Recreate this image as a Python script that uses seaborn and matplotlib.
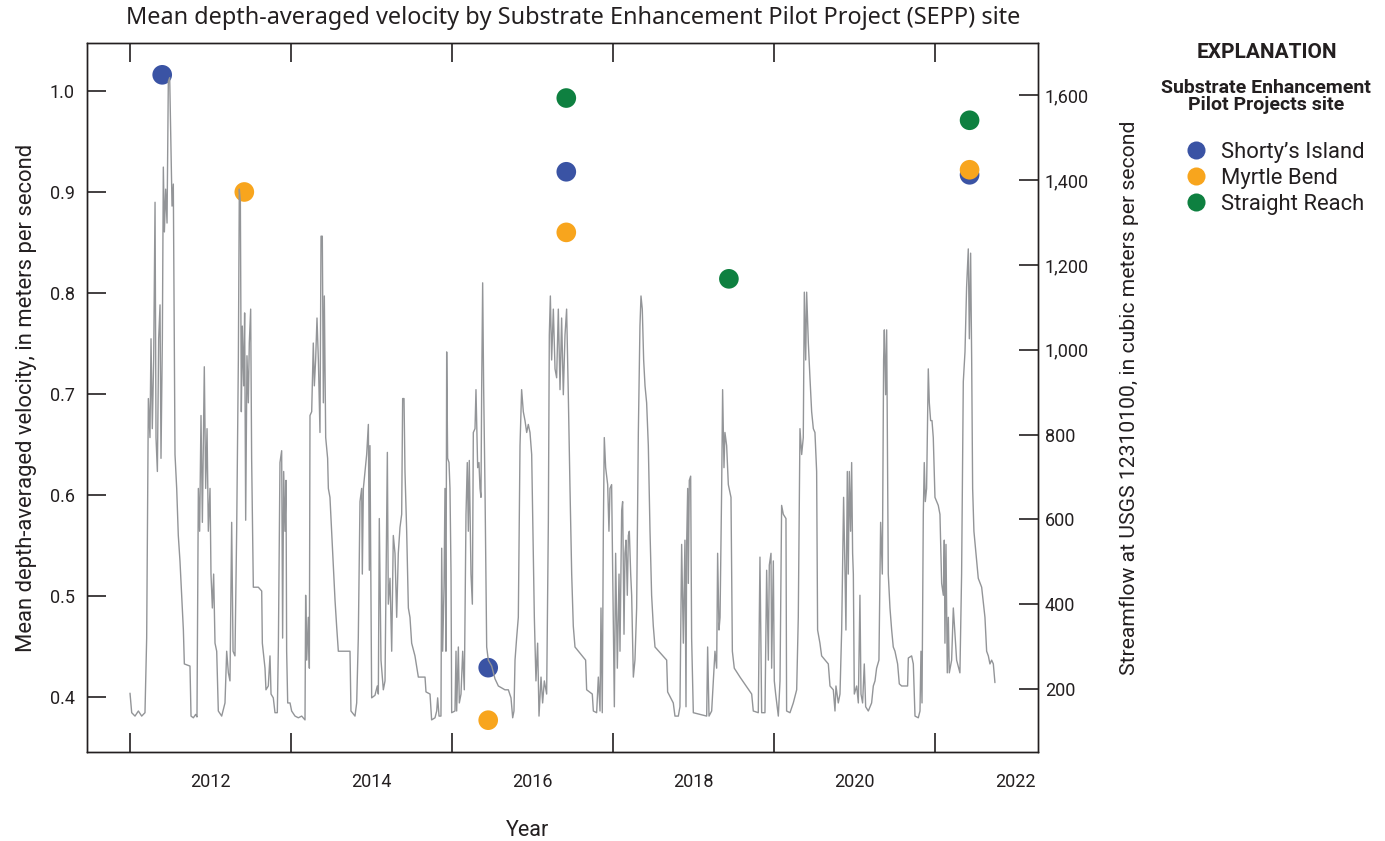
import matplotlib
matplotlib.use("Agg")
import matplotlib.pyplot as plt
import matplotlib.ticker as mticker
from matplotlib import font_manager
from matplotlib.lines import Line2D
import seaborn as sns
import pandas as pd

# ---------------- data ----------------
site_names = ["Shorty\u2019s Island", "Myrtle Bend", "Straight Reach"]
site_colors = ["#3A53A4", "#F8A51D", "#0E8040"]

shorty_year = [2011.40, 2015.45, 2016.42, 2021.43]
shorty_vel = [1.016, 0.429, 0.920, 0.917]
myrtle_year = [2012.42, 2015.45, 2016.42, 2021.43]
myrtle_vel = [0.900, 0.377, 0.860, 0.922]
straight_year = [2016.42, 2018.44, 2021.43]
straight_vel = [0.993, 0.814, 0.971]

flow_year = [
    2011.000, 2011.021, 2011.062, 2011.104, 2011.145, 2011.186, 2011.207, 2011.228, 2011.248, 2011.261,
    2011.277, 2011.294, 2011.311, 2011.323, 2011.340, 2011.356, 2011.373, 2011.385, 2011.402, 2011.414,
    2011.427, 2011.443, 2011.460, 2011.476, 2011.493, 2011.509, 2011.522, 2011.538, 2011.559, 2011.580,
    2011.600, 2011.621, 2011.642, 2011.663, 2011.675, 2011.745, 2011.758, 2011.787, 2011.816, 2011.832,
    2011.849, 2011.865, 2011.882, 2011.899, 2011.923, 2011.940, 2011.957, 2011.973, 2011.994, 2012.006,
    2012.023, 2012.039, 2012.056, 2012.077, 2012.097, 2012.139, 2012.180, 2012.201, 2012.222, 2012.242,
    2012.263, 2012.280, 2012.304, 2012.325, 2012.346, 2012.358, 2012.371, 2012.383, 2012.395, 2012.412,
    2012.424, 2012.437, 2012.453, 2012.470, 2012.482, 2012.499, 2012.511, 2012.532, 2012.573,
    2012.594, 2012.636, 2012.644, 2012.677, 2012.689, 2012.718, 2012.739, 2012.752, 2012.780, 2012.801,
    2012.830, 2012.843, 2012.863, 2012.884, 2012.896, 2012.909, 2012.925, 2012.938, 2012.946, 2012.959,
    2012.988, 2013.008, 2013.050, 2013.091, 2013.133, 2013.174, 2013.182, 2013.195, 2013.215, 2013.228,
    2013.236, 2013.257, 2013.277, 2013.290, 2013.306, 2013.323, 2013.340, 2013.360, 2013.373, 2013.389,
    2013.402, 2013.414, 2013.431, 2013.455, 2013.464, 2013.484, 2013.505, 2013.526, 2013.547, 2013.567,
    2013.588, 2013.733, 2013.745, 2013.795, 2013.816, 2013.836, 2013.857, 2013.878, 2013.886, 2013.899,
    2013.919, 2013.940, 2013.961, 2013.973, 2013.981, 2014.002, 2014.043, 2014.072, 2014.085, 2014.097,
    2014.118, 2014.147, 2014.168, 2014.197, 2014.209,
    2014.230, 2014.251, 2014.271, 2014.292, 2014.313, 2014.333, 2014.354, 2014.375, 2014.387, 2014.404,
    2014.416, 2014.437, 2014.458, 2014.478, 2014.499, 2014.540, 2014.582, 2014.665, 2014.677, 2014.727,
    2014.747, 2014.789, 2014.810, 2014.822, 2014.839, 2014.863, 2014.872, 2014.884, 2014.901, 2014.913,
    2014.925, 2014.934, 2014.946, 2014.963, 2014.975, 2014.988, 2014.996, 2015.037, 2015.050, 2015.058,
    2015.079, 2015.091, 2015.112, 2015.133, 2015.153, 2015.174, 2015.190, 2015.203, 2015.215, 2015.236,
    2015.253, 2015.265, 2015.286, 2015.298, 2015.319, 2015.335, 2015.348, 2015.360, 2015.369, 2015.381,
    2015.393, 2015.410, 2015.431, 2015.451, 2015.493, 2015.534, 2015.576, 2015.658, 2015.700, 2015.733,
    2015.754, 2015.770, 2015.783, 2015.803, 2015.824,
    2015.845, 2015.857, 2015.865, 2015.886, 2015.907, 2015.928, 2015.948, 2015.969, 2015.990, 2016.002,
    2016.023, 2016.043, 2016.064, 2016.081, 2016.106, 2016.126, 2016.147, 2016.176, 2016.197, 2016.209,
    2016.222, 2016.238, 2016.259, 2016.280, 2016.300, 2016.321, 2016.342, 2016.362, 2016.383, 2016.404,
    2016.424, 2016.445, 2016.466, 2016.487, 2016.507, 2016.528, 2016.660, 2016.673, 2016.743, 2016.756,
    2016.797, 2016.818, 2016.839, 2016.851, 2016.867, 2016.880, 2016.892, 2016.909, 2016.934, 2016.950,
    2016.963, 2016.983, 2017.004, 2017.017, 2017.033, 2017.054, 2017.075, 2017.087, 2017.108, 2017.120,
    2017.137, 2017.149, 2017.162, 2017.178, 2017.191, 2017.203, 2017.220, 2017.232, 2017.253, 2017.273,
    2017.294, 2017.315, 2017.335, 2017.348, 2017.364, 2017.381, 2017.398, 2017.418,
    2017.439, 2017.460, 2017.480, 2017.501, 2017.522, 2017.667, 2017.679, 2017.749, 2017.770, 2017.812,
    2017.832, 2017.853, 2017.874, 2017.894, 2017.907, 2017.915, 2017.928, 2017.936, 2017.948, 2017.965,
    2017.977, 2017.998, 2018.164, 2018.176, 2018.193, 2018.226, 2018.247, 2018.267, 2018.288, 2018.300,
    2018.317, 2018.330, 2018.350, 2018.362, 2018.379, 2018.391, 2018.412, 2018.433, 2018.466, 2018.483,
    2018.507, 2018.578, 2018.661, 2018.723, 2018.743, 2018.805, 2018.826, 2018.847, 2018.888, 2018.909,
    2018.930, 2018.942, 2018.963, 2018.971, 2018.992, 2019.004, 2019.021,
    2019.054, 2019.075, 2019.095, 2019.116, 2019.149, 2019.157, 2019.199, 2019.240, 2019.282, 2019.302,
    2019.323, 2019.344, 2019.364, 2019.377, 2019.394, 2019.406, 2019.427, 2019.447, 2019.468, 2019.489,
    2019.509, 2019.530, 2019.542, 2019.571, 2019.592, 2019.675, 2019.696, 2019.737, 2019.758, 2019.770,
    2019.799, 2019.820, 2019.841, 2019.853, 2019.865, 2019.882, 2019.894, 2019.911, 2019.923, 2019.936,
    2019.952, 2019.965, 2019.977, 2019.986, 2019.998, 2020.027, 2020.048, 2020.068, 2020.081, 2020.101,
    2020.122, 2020.139, 2020.172, 2020.213, 2020.234, 2020.255, 2020.275, 2020.304, 2020.325, 2020.346,
    2020.362, 2020.371, 2020.387, 2020.400, 2020.420, 2020.441, 2020.462, 2020.482, 2020.503, 2020.536,
    2020.557, 2020.586, 2020.660,
    2020.669, 2020.710, 2020.731, 2020.752, 2020.793, 2020.814, 2020.826, 2020.839, 2020.855, 2020.867,
    2020.880, 2020.896, 2020.917, 2020.930, 2020.946, 2020.963, 2020.979, 2021.000, 2021.041, 2021.062,
    2021.083, 2021.104, 2021.116, 2021.124, 2021.137, 2021.153, 2021.166, 2021.178, 2021.207, 2021.228,
    2021.248, 2021.269, 2021.310, 2021.331, 2021.352, 2021.373, 2021.393, 2021.414, 2021.427, 2021.443,
    2021.456, 2021.468, 2021.484, 2021.509, 2021.538, 2021.580, 2021.621, 2021.642, 2021.663, 2021.683,
    2021.704, 2021.725, 2021.745,
]

flow_cms = [
    190, 144, 136, 148, 136, 144, 320, 885, 793, 1026,
    814, 976, 1348, 793, 713, 1026, 1106, 744, 1026, 1431,
    1278, 1379, 1299, 1633, 1642, 1480, 1339, 1391, 753, 673,
    562, 501, 421, 339, 259, 254, 136, 132, 140, 134,
    673, 572, 845, 593, 960, 673, 814, 572, 673, 471,
    391, 471, 308, 289, 148, 136, 167, 289, 238, 219,
    593, 289, 278, 572, 976, 1379, 1348, 854, 1056, 915,
    1087, 598, 986, 875, 1016, 1096, 744, 440, 440,
    440, 431, 308, 249, 198, 207, 278, 188, 179, 144,
    144, 299, 734, 762, 320, 713, 572, 692, 289, 167,
    167, 148, 136, 132, 136, 127, 421, 268, 369, 249,
    845, 854, 1016, 915, 976, 1075, 976, 805, 1268, 1268,
    875, 1127, 793, 744, 673, 652, 572, 492, 409, 348,
    289, 289, 148, 136, 167, 320, 642, 673, 471, 673,
    713, 753, 824, 480, 774, 179, 185, 207, 188, 602,
    268, 198, 219, 758, 400,
    461, 289, 562, 520, 369, 520, 581, 612, 885, 885,
    713, 572, 391, 369, 308, 278, 228, 228, 193, 188,
    127, 132, 148, 179, 136, 136, 532, 289, 440, 673,
    289, 995, 744, 734, 673, 471, 144, 148, 289, 148,
    299, 167, 188, 289, 198, 612, 734, 572, 739, 471,
    400, 805, 814, 906, 722, 734, 673, 652, 915, 1158,
    915, 673, 299, 268, 254, 224, 207, 198, 198, 179,
    132, 148, 268, 320, 369,
    774, 854, 906, 854, 833, 805, 824, 805, 753, 612,
    369, 219, 308, 136, 228, 167, 219, 188, 593, 1035,
    1127, 976, 1096, 955, 934, 1096, 906, 1075, 894, 1035,
    1096, 894, 673, 471, 348, 299, 268, 198, 188, 148,
    144, 228, 148, 391, 144, 572, 793, 722, 682, 572,
    673, 682, 369, 158, 520, 249, 471, 289, 621, 642,
    329, 520, 551, 421, 562, 572, 471, 421, 228, 268,
    391, 805, 1056, 1127, 1096, 976, 915, 875,
    774, 572, 421, 348, 299, 268, 193, 167, 136, 136,
    158, 541, 308, 551, 158, 541, 673, 449, 692, 702,
    320, 144, 136, 299, 136, 148, 219, 289, 249, 520,
    339, 369, 673, 906, 722, 805, 774, 682, 652, 289,
    249, 228, 205, 188, 148, 144, 511, 144, 144, 480,
    268, 492, 520, 249, 502, 219, 188,
    136, 219, 633, 612, 602, 148, 144, 167, 198, 369,
    814, 753, 793, 1136, 976, 1136, 1016, 934, 854, 814,
    805, 713, 339, 308, 278, 259, 207, 198, 148, 207,
    167, 188, 339, 492, 652, 480, 339, 713, 471, 713,
    572, 734, 520, 471, 188, 207, 167, 421, 188, 167,
    259, 158, 148, 167, 207, 219, 249, 268, 593, 471,
    976, 1047, 894, 1047, 471, 391, 339, 299, 289, 259,
    212, 207, 207,
    273, 278, 259, 136, 132, 148, 289, 167, 612, 734,
    642, 673, 955, 875, 833, 833, 793, 652, 633, 612,
    449, 421, 551, 308, 541, 238, 369, 238, 268, 391,
    329, 268, 238, 471, 925, 995, 1148, 1238, 1026, 1228,
    976, 673, 572, 520, 461, 440, 369, 289, 278, 259,
    268, 259, 215,
]

vel_ticks = [0.4, 0.5, 0.6, 0.7, 0.8, 0.9, 1.0]
flow_ticks = [200, 400, 600, 800, 1000, 1200, 1400, 1600]
major_years = [2011, 2013, 2015, 2017, 2019, 2021]
label_years = [2012, 2014, 2016, 2018, 2020, 2022]

# ---------------- tables ----------------
obs = pd.DataFrame({
    "year": shorty_year + myrtle_year + straight_year,
    "velocity": shorty_vel + myrtle_vel + straight_vel,
    "site": [site_names[0]] * len(shorty_year) + [site_names[1]] * len(myrtle_year)
            + [site_names[2]] * len(straight_year),
})
flow = pd.DataFrame({"year": flow_year, "flow": flow_cms})

# ---------------- style ----------------
sns.set_theme(style="white")


def pick(names):
    avail = {f.name for f in font_manager.fontManager.ttflist}
    for n in names:
        if n in avail:
            return n
    return "DejaVu Sans"


COND = pick(["Liberation Sans Narrow", "Roboto", "DejaVu Sans"])
TITLEF = pick(["Noto Sans", "Open Sans", "DejaVu Sans"])
plt.rcParams["font.family"] = [COND, "DejaVu Sans"]
TXT = "#231F20"

W, H = 1385, 841
fig = plt.figure(figsize=(W / 100, H / 100), dpi=100)
L, R, T, B = 86.7, 1038.0, 43.3, 751.7
ax = fig.add_axes([L / W, 1 - B / H, (R - L) / W, (B - T) / H])
ax2 = ax.twinx()

palette = dict(zip(site_names, site_colors))
sns.scatterplot(data=obs, x="year", y="velocity", hue="site", palette=palette,
                hue_order=site_names, s=200, linewidth=0, ax=ax, legend=False, zorder=3)
sns.lineplot(data=flow, x="year", y="flow", color="#939598", linewidth=1.0,
             estimator=None, sort=False, ax=ax2)

ax.set_xlim(2010.462, 2022.28)
ax.set_ylim(0.3458, 1.0472)
ax2.set_ylim(52, 1723)

for a in (ax, ax2):
    for s in a.spines.values():
        s.set_color("#231F20")
        s.set_linewidth(1.0)
        s.set_visible(True)

ax.set_xticks(major_years)
ax.set_xticks(label_years, minor=True)
ax.xaxis.set_major_formatter(mticker.NullFormatter())
ax.xaxis.set_minor_formatter(mticker.FuncFormatter(lambda v, p: f"{int(round(v))}"))
ax.tick_params(axis="x", which="major", direction="in", length=13.5, width=1.2,
               color=TXT, top=True, bottom=True)
ax.tick_params(axis="x", which="minor", length=0, pad=15, labelsize=13, labelcolor=TXT)

ax.set_yticks(vel_ticks)
ax.yaxis.set_major_formatter(mticker.FormatStrFormatter("%.1f"))
ax.tick_params(axis="y", which="major", direction="in", length=13.5, width=1.2,
               color=TXT, left=True, right=False, pad=8.5, labelsize=13, labelcolor=TXT)

ax2.set_yticks(flow_ticks)
ax2.yaxis.set_major_formatter(mticker.FuncFormatter(lambda v, p: f"{int(v):,}"))
ax2.tick_params(axis="y", which="major", direction="in", length=13.5, width=1.2,
                color=TXT, right=True, left=False, pad=5, labelsize=13, labelcolor=TXT)

ax.set_xlabel("")
ax.set_ylabel("Mean depth-averaged velocity, in meters per second", fontsize=15.8,
              color=TXT, labelpad=9)
ax2.set_ylabel("Streamflow at USGS 12310100, in cubic meters per second", fontsize=15.2,
               color=TXT, labelpad=22)
fig.text(528 / W, 1 - 830 / H, "Year", ha="center", va="center", fontsize=15.5, color=TXT)

fig.text(573 / W, 1 - 18 / H,
         "Mean depth-averaged velocity by Substrate Enhancement Pilot Project (SEPP) site",
         ha="center", va="center", fontsize=16.9, color=TXT, family=[TITLEF, "DejaVu Sans"])

# explanation
fig.text(1267 / W, 1 - 53 / H, "EXPLANATION", ha="center", va="center", fontsize=15,
         fontweight="bold", color=TXT)
fig.text(1266 / W, 1 - 96.5 / H, "Substrate Enhancement\nPilot Projects site",
         ha="center", va="center", fontsize=14, fontweight="bold", color=TXT,
         linespacing=0.95, multialignment="center")
handles = [Line2D([0], [0], marker="o", linestyle="none", markersize=13,
                  markerfacecolor=c, markeredgewidth=0) for c in site_colors]
leg = fig.legend(handles, site_names, loc="upper left",
                 bbox_to_anchor=(1185 / W, 1 - 142 / H), frameon=False,
                 fontsize=15.8, handletextpad=0.62, labelspacing=0.22, borderpad=0,
                 handlelength=1.03, borderaxespad=0)
for t in leg.get_texts():
    t.set_color(TXT)

fig.savefig("out.png", dpi=100)
